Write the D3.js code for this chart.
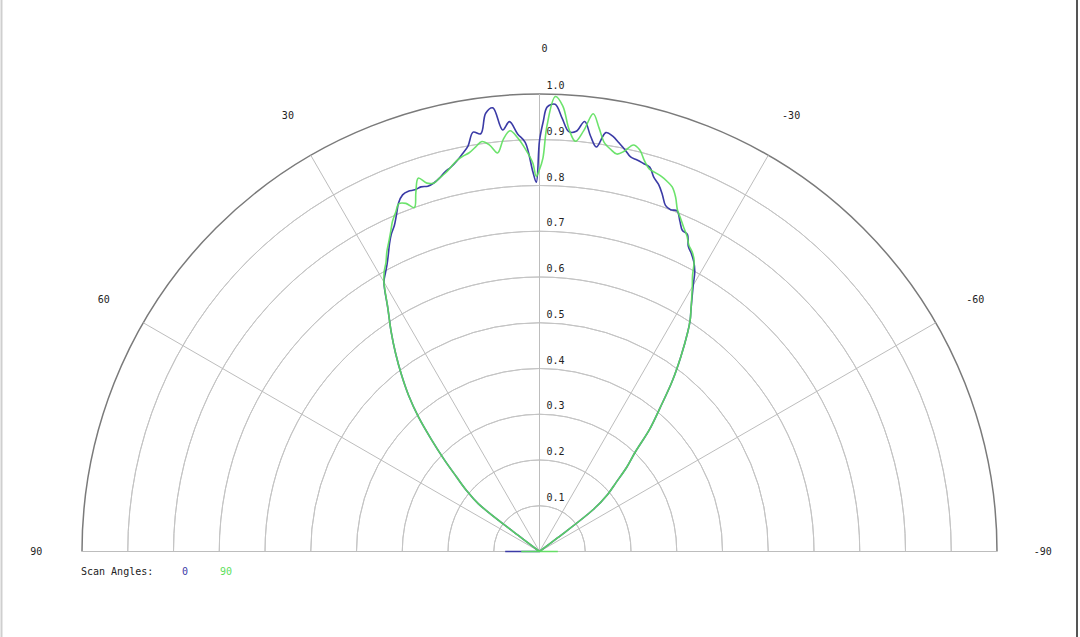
<!DOCTYPE html>
<html lang="en">
<head>
    <meta charset="UTF-8">
    <title>Scan Angles Polar Chart</title>
    <script src="https://d3js.org/d3.v7.min.js"></script>
    <style>
        body { margin: 0; background: #fff; }
        .ring { fill: none; stroke: #c4c4c4; stroke-width: 1px; }
        .ring-outer { fill: none; stroke: #7a7a7a; stroke-width: 1.5px; }
        .spoke { stroke: #bdbdbd; stroke-width: 1px; }
        .lbl { font-family: "DejaVu Sans Mono", monospace; font-size: 10px; fill: #222; }
    </style>
</head>
<body>
    <div id="chart"></div>

    <script>
        // angles in degrees (positive = left of the vertical axis)
        const angles = [-90, -56, -54, -53, -52, -50, -48, -46, -44, -42, -40, -38, -36, -34, -33, -32,
            -30, -29, -28, -27, -26, -25, -24, -23, -22, -21, -20, -19, -18, -17, -16, -15, -14, -13, -12, -11,
            -10, -9, -8, -7, -6, -5, -4, -3, -2, -1, -0.5, 0, 0.5, 1, 2, 3, 4, 5, 6, 7, 8, 9,
            10, 11, 12, 13, 14, 15, 16, 17, 18, 19, 20, 21, 22, 23, 24, 25, 26, 27, 28, 29,
            30, 32, 34, 36, 38, 40, 42, 44, 46, 48, 50, 52, 53, 54, 56, 90];

        // scan angle 0 (blue)
        const scan0 = [0, 0, 0, 0.05, 0.15, 0.195, 0.225, 0.265, 0.30, 0.36, 0.41, 0.47, 0.525, 0.58, 0.605, 0.625,
            0.672, 0.700, 0.718, 0.731, 0.742, 0.765, 0.768, 0.785, 0.803, 0.800, 0.805, 0.825, 0.843, 0.855, 0.874, 0.878, 0.882, 0.885, 0.898, 0.910,
            0.922, 0.927, 0.893, 0.915, 0.945, 0.922, 0.920, 0.948, 0.978, 0.972, 0.940, 0.898, 0.807, 0.830, 0.895, 0.914, 0.942, 0.925, 0.975, 0.965, 0.922, 0.928,
            0.900, 0.885, 0.872, 0.862, 0.855, 0.845, 0.838, 0.835, 0.838, 0.836, 0.838, 0.835, 0.822, 0.800, 0.780, 0.766, 0.748, 0.728, 0.710, 0.695,
            0.680, 0.625, 0.580, 0.535, 0.490, 0.445, 0.395, 0.340, 0.290, 0.245, 0.210, 0.170, 0.060, 0, 0, 0.075];

        // scan angle 90 (green)
        const scan90 = [0.04, 0, 0, 0.05, 0.15, 0.195, 0.225, 0.265, 0.30, 0.36, 0.41, 0.47, 0.525, 0.58, 0.605, 0.625,
            0.668, 0.690, 0.720, 0.735, 0.745, 0.762, 0.775, 0.790, 0.805, 0.830, 0.848, 0.856, 0.862, 0.866, 0.870, 0.885, 0.905, 0.912, 0.895, 0.885,
            0.893, 0.905, 0.935, 0.964, 0.925, 0.900, 0.925, 0.975, 0.995, 0.930, 0.860, 0.835, 0.820, 0.850, 0.880, 0.905, 0.922, 0.905, 0.876, 0.895, 0.905, 0.895,
            0.885, 0.880, 0.873, 0.862, 0.852, 0.845, 0.838, 0.842, 0.858, 0.830, 0.800, 0.815, 0.820, 0.805, 0.790, 0.770, 0.752, 0.735, 0.715, 0.700,
            0.680, 0.625, 0.580, 0.535, 0.490, 0.445, 0.395, 0.340, 0.290, 0.245, 0.210, 0.170, 0.060, 0, 0, 0.04];

        const ringValues = [0.1, 0.2, 0.3, 0.4, 0.5, 0.6, 0.7, 0.8, 0.9, 1.0];
        const ringLabels = ["0.1", "0.2", "0.3", "0.4", "0.5", "0.6", "0.7", "0.8", "0.9", "1.0"];
        const angleTicks = [90, 60, 30, 0, -30, -60, -90];
        const seriesNames = ["0", "90"];
        const seriesColors = ["#3b3ba6", "#5ce05c"];

        const width = 1080, height = 637;
        const cx = 539.5, cy = 551.5;

        const svg = d3.select("#chart")
          .append("svg")
            .attr("width", width)
            .attr("height", height);

        // frame edges
        svg.append("line").attr("x1", 1.5).attr("x2", 1.5).attr("y1", 0).attr("y2", height)
            .style("stroke", "#cfcfcf").style("stroke-width", 2);
        svg.append("line").attr("x1", 1077).attr("x2", 1077).attr("y1", 0).attr("y2", height)
            .style("stroke", "#555").style("stroke-width", 2);

        const g = svg.append("g")
            .attr("transform", `translate(${cx},${cy})`);

        const r = d3.scaleLinear().domain([0, 1]).range([0, 457.5]);
        // degrees -> lineRadial angle (clockwise from top), positive degrees go left
        const ang = d => -d * Math.PI / 180;

        // rings
        const halfArc = d3.arc()
            .innerRadius(d => r(d))
            .outerRadius(d => r(d))
            .startAngle(-Math.PI / 2)
            .endAngle(Math.PI / 2);
        g.selectAll(".ring")
            .data(ringValues)
            .enter()
            .append("path")
            .attr("class", d => d === 1 ? "ring-outer" : "ring")
            .attr("d", halfArc);

        // spokes
        g.selectAll(".spoke")
            .data([60, 30, 0, -30, -60])
            .enter()
            .append("line")
            .attr("class", "spoke")
            .attr("x1", 0).attr("y1", 0)
            .attr("x2", d => r(1) * Math.sin(ang(d)))
            .attr("y2", d => -r(1) * Math.cos(ang(d)));
        g.append("line")
            .attr("class", "spoke")
            .attr("x1", -r(1)).attr("x2", r(1))
            .attr("y1", 0).attr("y2", 0);

        // ring labels
        g.selectAll(".ring-label")
            .data(ringValues)
            .enter()
            .append("text")
            .attr("class", "lbl")
            .attr("x", 7)
            .attr("y", d => -r(d) - 5)
            .text((d, i) => ringLabels[i]);

        // angle labels
        g.selectAll(".angle-label")
            .data(angleTicks)
            .enter()
            .append("text")
            .attr("class", "lbl")
            .attr("text-anchor", "middle")
            .attr("dominant-baseline", "central")
            .attr("x", d => r(1.1) * Math.sin(ang(d)) + (d === 0 ? 5 : 0))
            .attr("y", d => -r(1.1) * Math.cos(ang(d)))
            .text(d => d);

        // series (smoothed like the original plot)
        const line = d3.lineRadial()
            .angle((d, i) => ang(angles[i]))
            .radius(d => r(d))
            .curve(d3.curveCatmullRom.alpha(0.5));

        [scan0, scan90].forEach((s, k) => {
            g.append("path")
                .attr("d", line(s))
                .style("fill", "none")
                .style("stroke", seriesColors[k])
                .style("stroke-width", 1.6)
                .style("stroke-linejoin", "round")
                .style("opacity", k === 1 ? 0.9 : 1);
        });

        // legend
        svg.append("text")
            .attr("class", "lbl")
            .attr("x", 81)
            .attr("y", 575)
            .text("Scan Angles:");
        svg.selectAll(".legend-item")
            .data(seriesNames)
            .enter()
            .append("text")
            .attr("class", "lbl")
            .attr("text-anchor", "middle")
            .attr("x", (d, i) => 185 + i * 41)
            .attr("y", 575)
            .style("fill", (d, i) => seriesColors[i])
            .text(d => d);
    </script>
</body>
</html>
